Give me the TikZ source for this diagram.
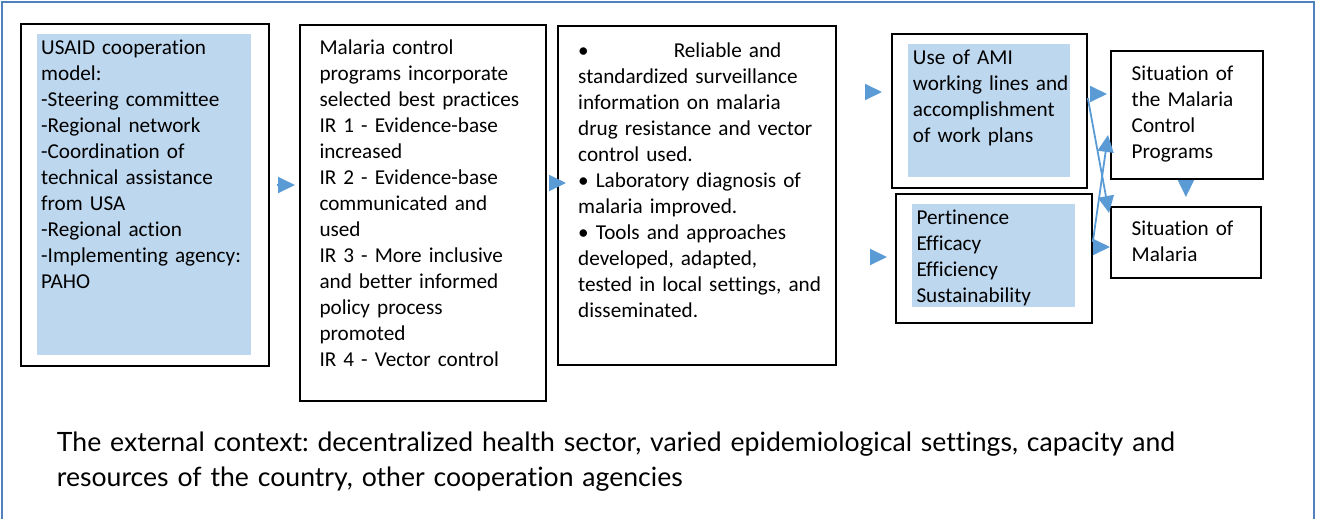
\documentclass[tikz,border=0pt]{standalone}
\usepackage{fontspec}
\setmainfont{Carlito}[Ligatures=NoCommon]
\newfontfamily\contextfont{Lato}[Ligatures=NoCommon]
\usetikzlibrary{arrows.meta}
\frenchspacing

\definecolor{frameblue}{HTML}{4F81BD}
\definecolor{arrowblue}{HTML}{5B9BD5}
\definecolor{paleblue}{HTML}{BDD7EE}

\begin{document}
\begin{tikzpicture}[
    x=1pt, y=-1pt,                              % pixel grid, y downwards
    >={Triangle[length=17pt, width=16pt]},      % arrow tip style
    box/.style={draw, line width=1.8pt, anchor=north west, inner sep=0pt},
    shaded/.style={fill=paleblue, anchor=north west, inner sep=0pt},
    txt/.style={anchor=base west, inner sep=0pt, text width=#1, align=left,
        font=\fontsize{21.2}{26}\selectfont},
    flow/.style={->, draw=arrowblue, line width=1.8pt}]
    \useasboundingbox (0,0) rectangle (1317,519);

    % outer frame, open at the bottom
    \draw[frameblue, line width=2.5pt] (2,520) -- (2,2) -- (1314,2) -- (1314,520);

    % Boxes
    \node[box, minimum width=248pt, minimum height=342pt] (usaid) at (20,23) {};
    \node[shaded, minimum width=214pt, minimum height=321pt] (usaidbg) at (37,34) {};
    \node[box, minimum width=246pt, minimum height=376pt] (progs) at (299,24) {};
    \node[box, minimum width=278pt, minimum height=339pt] (results) at (557,25) {};
    \node[box, minimum width=195pt, minimum height=154pt] (ami) at (891,33) {};
    \node[shaded, minimum width=162pt, minimum height=133pt] (amibg) at (908,44) {};
    \node[box, minimum width=196pt, minimum height=129pt] (criteria) at (895,193) {};
    \node[shaded, minimum width=163pt, minimum height=103pt] (criteriabg) at (912,204) {};
    \node[box, minimum width=152pt, minimum height=128pt] (sitprog) at (1110,50) {};
    \node[box, minimum width=150pt, minimum height=71pt] (sitmal) at (1110,206) {};

    % Texts
    \node[txt=210pt] (usaidtxt) at (41,54.3) {USAID cooperation\\ model:\\ -Steering committee\\
        -Regional network\\ -Coordination of\\ technical assistance\\ from USA\\
        -Regional action\\ -Implementing agency:\\ PAHO};
    \node[txt=225pt] (progstxt) at (319.3,55) {Malaria control\\ programs incorporate\\
        selected best practices\\ IR 1 - Evidence-base\\ increased\\ IR 2 - Evidence-base\\
        communicated and\\ used\\ IR 3 - More inclusive\\ and better informed\\
        policy process\\ promoted\\ IR 4 - Vector control};
    \node[txt=255pt] (resultstxt) at (578,57.7) {\textbullet\hspace{85pt}Reliable and\\
        standardized surveillance\\ information on malaria\\ drug resistance and vector\\
        control used.\\ \textbullet{} Laboratory diagnosis of\\ malaria improved.\\
        \textbullet{} Tools and approaches\\ developed, adapted,\\
        tested in local settings, and\\ disseminated.};
    \node[txt=160pt] (amitxt) at (912.7,64) {Use of AMI\\ working lines and\\
        accomplishment\\ of work plans};
    \node[txt=160pt] (criteriatxt) at (916.3,224.3) {Pertinence\\ Efficacy\\ Efficiency\\
        Sustainability};
    \node[txt=130pt] (sitprogtxt) at (1131.5,81) {Situation of\\ the Malaria\\ Control\\
        Programs};
    \node[txt=130pt] (sitmaltxt) at (1131.5,235.7) {Situation of\\ Malaria};

    \node[anchor=base west, inner sep=0pt, text width=1240pt, align=left,
        font=\contextfont\fontsize{26.6}{34.3}\selectfont] (context) at (56.7,451.7)
        {The external context: decentralized health sector, varied epidemiological settings, capacity and\\
        resources of the country, other cooperation agencies};

    % Arrows
    \coordinate (a1) at (277,185);
    \coordinate (a2) at (549,183);
    \coordinate (a3) at (865,92);
    \coordinate (a4) at (871,257);
    \coordinate (a5) at (1091,94);
    \coordinate (a6) at (0,98);
    \coordinate (a7) at (0,242);
    \coordinate (a8) at (1094,247);
    \draw[flow, shorten >=4pt] (a1) -- (a1 -| progs.west);
    \draw[flow, shorten >=-9pt] (a2) -- (a2 -| results.west);
    \draw[flow, shorten >=9pt] (a3) -- (a3 -| ami.west);
    \draw[flow, shorten >=8pt] (a4) -- (a4 -| criteria.west);
    \draw[flow, shorten >=3pt] (a5) -- (a5 -| sitprog.west);
    \draw[flow] (ami.east |- a6) -- ([shift={(-1,7)}]sitmal.north west);
    \draw[flow] (criteria.east |- a7) -- ([shift={(-2,85)}]sitprog.north west);
    \draw[flow] (a8) -- (a8 -| sitmal.west);
    \draw[flow, shorten <=4pt, shorten >=9pt] ([xshift=-1pt]sitprog.south) -- (sitmal.north);
\end{tikzpicture}
\end{document}
